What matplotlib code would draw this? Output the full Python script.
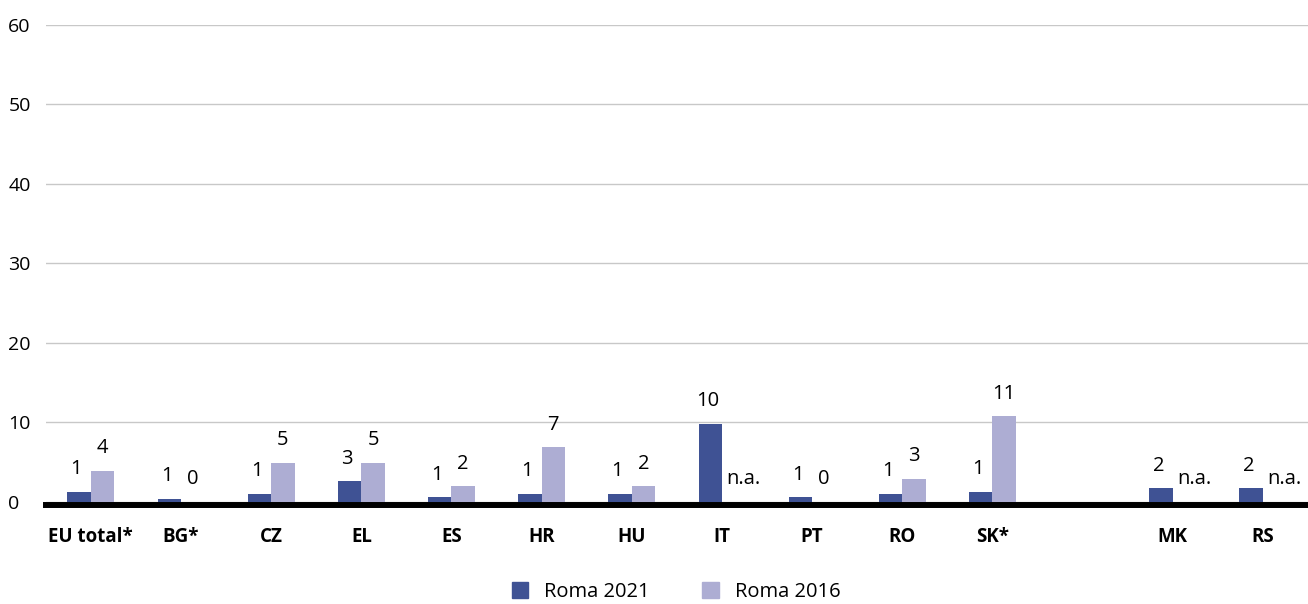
import numpy as np
import matplotlib
matplotlib.use('Agg')
import matplotlib.pyplot as plt
from matplotlib.patches import Patch

plt.rcParams['font.family'] = ['Open Sans', 'DejaVu Sans']

categories = ['EU total*', 'BG*', 'CZ', 'EL', 'ES', 'HR', 'HU', 'IT', 'PT', 'RO', 'SK*', 'MK', 'RS']
positions = [0, 1, 2, 3, 4, 5, 6, 7, 8, 9, 10, 12, 13]
roma_2021 = [1.3, 0.4, 1.0, 2.6, 0.6, 1.0, 1.0, 9.8, 0.6, 1.0, 1.3, 1.7, 1.7]
roma_2016 = [3.9, 0.0, 4.9, 4.9, 2.0, 6.9, 2.0, None, 0.0, 2.9, 10.8, None, None]
labels_2021 = ['1', '1', '1', '3', '1', '1', '1', '10', '1', '1', '1', '2', '2']
labels_2016 = ['4', '0', '5', '5', '2', '7', '2', 'n.a.', '0', '3', '11', 'n.a.', 'n.a.']

c2021 = '#3f5294'
c2016 = '#adadd3'
w = 0.26

fig = plt.figure(figsize=(13.08, 6.04), dpi=100)
ax = fig.add_axes([0.035, 0.169, 0.965, 0.790])

x = np.array(positions, dtype=float)
v16 = [np.nan if v is None else v for v in roma_2016]
ax.bar(x - w / 2, roma_2021, w, color=c2021, zorder=3)
ax.bar(x + w / 2, v16, w, color=c2016, zorder=3)

for xi, v, t in zip(x, roma_2021, labels_2021):
    ax.annotate(t, (xi - w / 2, v), xytext=(-2, 9), textcoords='offset points',
                ha='center', va='bottom', fontsize=14.5)
for xi, v, t in zip(x, roma_2016, labels_2016):
    if v is None:
        # missing value: "n.a." sits just right of the 2016 slot
        ax.annotate(t, (xi + w / 2 + 0.11, 0), xytext=(0, 9), textcoords='offset points',
                    ha='center', va='bottom', fontsize=14.5)
    else:
        ax.annotate(t, (xi + w / 2, v), xytext=(0, 9), textcoords='offset points',
                    ha='center', va='bottom', fontsize=14.5)

ax.set_xlim(-0.5, 13.5)
ax.set_ylim(0, 60)
ax.set_yticks([0, 10, 20, 30, 40, 50, 60])
ax.yaxis.grid(True, color='#c8c8c8', linewidth=1, zorder=0)
ax.axhline(-0.38, color='black', linewidth=4.3, zorder=4, clip_on=False)

ax.set_xticks(positions)
ax.set_xticklabels(categories, fontsize=13.5, fontweight='bold')
ax.tick_params(axis='x', length=0, pad=18)
ax.tick_params(axis='y', length=0, pad=27, labelsize=14)
for lab in ax.get_yticklabels():
    lab.set_ha('left')
for s in ax.spines.values():
    s.set_visible(False)

handles = [Patch(color=c2021, label='Roma 2021'), Patch(color=c2016, label='Roma 2016')]
fig.legend(handles=handles, loc='lower center', bbox_to_anchor=(0.517, -0.027), ncol=2,
           frameon=False, fontsize=14.5, handlelength=0.8, handleheight=0.8,
           columnspacing=2.6, handletextpad=0.8)

fig.savefig('out.png', dpi=100)
